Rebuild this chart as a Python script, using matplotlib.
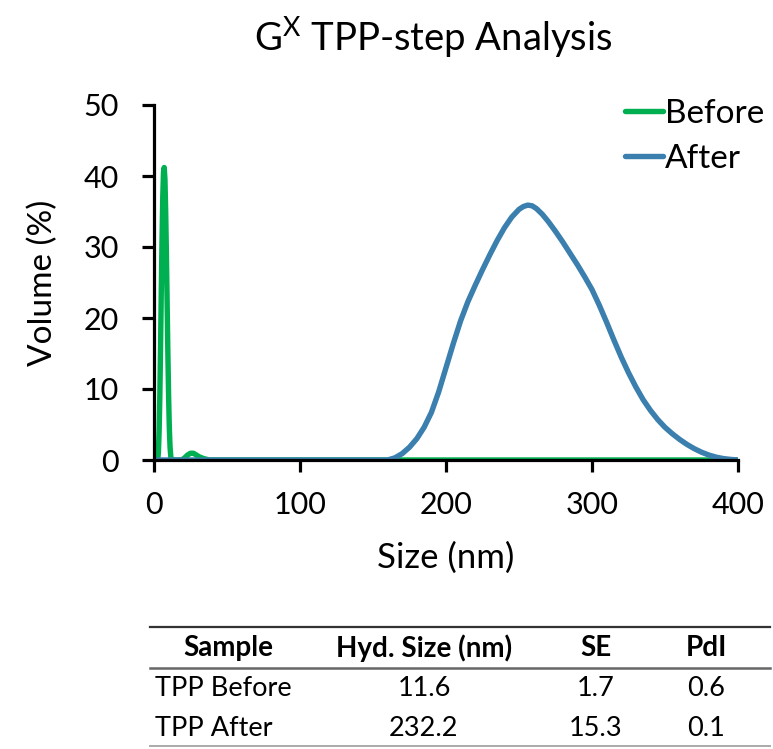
import matplotlib
matplotlib.use('Agg')
import matplotlib.pyplot as plt
from matplotlib.lines import Line2D

plt.rcParams['font.family'] = ['Lato', 'DejaVu Sans']
plt.rcParams['mathtext.fontset'] = 'custom'
plt.rcParams['mathtext.rm'] = 'Lato'

# size distribution
before_x = [0, 2.5, 3, 3.5, 4, 4.5, 5, 5.5, 6, 6.5, 7, 7.5, 8, 8.5, 9, 9.5, 10, 10.5,
            11, 11.5, 12, 19, 21, 23, 25, 27, 29, 31, 34, 38, 400]
before_y = [0, 0, 1, 4, 9, 16, 24, 31, 37, 40.5, 41.2, 39.5, 35, 29, 22, 15, 9, 4.5,
            1.8, 0.5, 0, 0, 0.3, 0.7, 0.95, 0.95, 0.7, 0.45, 0.2, 0, 0]

after_x = [0, 160, 165, 170, 175, 180, 185, 190, 195, 200, 205, 210, 215, 220, 225, 230,
           235, 240, 245, 250, 253, 256, 259, 262, 266, 270, 275, 280, 285, 290, 295,
           300, 305, 310, 315, 320, 325, 330, 335, 340, 345, 350, 355, 360, 365, 370,
           375, 380, 385, 390, 395, 399]
after_y = [0, 0, 0.3, 0.9, 1.8, 3.0, 4.6, 6.7, 9.6, 13.0, 16.4, 19.6, 22.3, 24.6, 26.8,
           28.9, 30.9, 32.7, 34.2, 35.3, 35.7, 35.9, 35.8, 35.4, 34.6, 33.6, 32.2, 30.7,
           29.1, 27.5, 25.8, 24.0, 21.8, 19.4, 16.9, 14.5, 12.3, 10.3, 8.5, 7.0, 5.7, 4.6,
           3.7, 2.9, 2.2, 1.6, 1.1, 0.7, 0.4, 0.2, 0.08, 0.02]

x_ticks = [0, 100, 200, 300, 400]
y_ticks = [0, 10, 20, 30, 40, 50]

# summary table
columns = ['Sample', 'Hyd. Size (nm)', 'SE', 'PdI']
samples = ['TPP Before', 'TPP After']
hyd_size = ['11.6', '232.2']
se = ['1.7', '15.3']
pdi = ['0.6', '0.1']

W, H = 773, 749
fig = plt.figure(figsize=(W / 100, H / 100), dpi=100)
ax = fig.add_axes([154 / W, 1 - 460 / H, 584 / W, 355 / H])

ax.plot(before_x, before_y, color='#00b050', lw=3.9, label='Before',
        solid_capstyle='round', solid_joinstyle='round')
ax.plot(after_x, after_y, color='#3a7fae', lw=3.9, label='After',
        solid_capstyle='round', solid_joinstyle='round')

ax.set_xlim(0, 400)
ax.set_ylim(0, 50)
ax.set_xticks(x_ticks)
ax.set_yticks(y_ticks)
for s in ['top', 'right']:
    ax.spines[s].set_visible(False)
for s in ['left', 'bottom']:
    ax.spines[s].set_linewidth(2.3)
ax.tick_params(width=2.3, length=8.5, labelsize=22)
ax.tick_params(axis='y', pad=17)
ax.tick_params(axis='x', pad=14)
for sp in ax.spines.values():
    sp.set_clip_on(False)

ax.set_xlabel('Size (nm)', fontsize=25, labelpad=16)
ax.set_ylabel('Volume (%)', fontsize=24, labelpad=18)
fig.text(433 / W, 1 - 38 / H, r'G$^{\mathrm{X}}$ TPP-step Analysis', fontsize=27.5,
         ha='center', va='center')

leg = ax.legend(loc='upper right', frameon=False, fontsize=24, handlelength=1.15,
                handletextpad=0.05, labelspacing=0.45, borderaxespad=0,
                bbox_to_anchor=(1.068, 1.055))

# table
def fy(p):
    return 1 - p / H

for y0, lw, c in [(627, 1.6, '#333333'), (668, 1.8, '#666666'), (746, 1.4, '#aaaaaa')]:
    fig.add_artist(Line2D([150 / W, 770 / W], [fy(y0), fy(y0)], color=c, lw=lw))

col_x = [228, 424, 596, 706]
for cx, name in zip(col_x, columns):
    fig.text(cx / W, fy(648), name, fontsize=20, fontweight='bold', ha='center', va='center')

row_y = [689, 728]
for i, ry in enumerate(row_y):
    fig.text(155 / W, fy(ry), samples[i], fontsize=19.5, ha='left', va='center')
    fig.text(col_x[1] / W, fy(ry), hyd_size[i], fontsize=19.5, ha='center', va='center')
    fig.text(col_x[2] / W, fy(ry), se[i], fontsize=19.5, ha='center', va='center')
    fig.text(col_x[3] / W, fy(ry), pdi[i], fontsize=19.5, ha='center', va='center')

fig.savefig('out.png', dpi=100)
